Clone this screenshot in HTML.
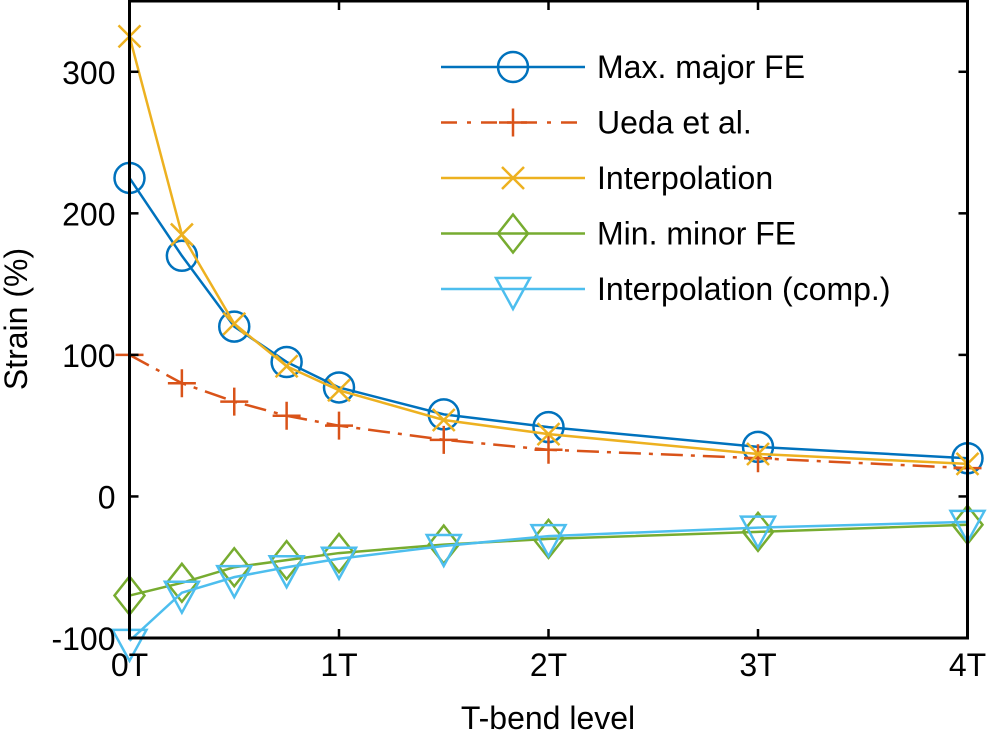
<!DOCTYPE html>
<html><head><meta charset="utf-8"><style>
body{margin:0;background:#fff}
svg{display:block;font-family:"Liberation Sans",sans-serif}
</style></head><body>
<svg id="chart" width="988" height="735" viewBox="0 0 988 735">
<g id="plot"></g>
<g id="axes"></g>
<g id="legend"></g>
</svg>
<script>
const xVals=[0,0.25,0.5,0.75,1,1.5,2,3,4];
const maxMajor=[225,170,120,95,77,58,49,35,27];
const ueda=[100,80,67,57,50,40,33,27,20];
const interp=[325,185,122,92,75,54,44,30,23];
const minMinor=[-70,-61,-50,-45,-40,-34,-30,-25,-20];
const interpComp=[-102,-68,-57,-50,-44,-35,-28,-22,-18];
const xTicks=[0,1,2,3,4];
const xTickLabels=["0T","1T","2T","3T","4T"];
const yTicks=[-100,0,100,200,300];
const yTickLabels=["-100","0","100","200","300"];
const seriesNames=["Max. major FE","Ueda et al.","Interpolation","Min. minor FE","Interpolation (comp.)"];

const L=129.5,R=967.5,T=1,B=638;
const X=v=>L+(v-0)/4*(R-L);
const Y=v=>B-(v+100)/450*(B-T);
const NS="http://www.w3.org/2000/svg";
function mk(tag,attrs,parent){const e=document.createElementNS(NS,tag);for(const k in attrs)e.setAttribute(k,attrs[k]);parent.appendChild(e);return e;}
const plot=document.getElementById('plot'),axes=document.getElementById('axes'),legend=document.getElementById('legend');

function marker(type,x,y,color,parent){
  let e;
  if(type==='o') e=mk('circle',{cx:x,cy:y,r:15,fill:'none',stroke:color,'stroke-width':2.5},parent);
  else if(type==='+') e=mk('path',{d:`M${x-14},${y}H${x+14}M${x},${y-14}V${y+14}`,stroke:color,'stroke-width':2.5,fill:'none'},parent);
  else if(type==='x') e=mk('path',{d:`M${x-11},${y-11}L${x+11},${y+11}M${x-11},${y+11}L${x+11},${y-11}`,stroke:color,'stroke-width':2.5,fill:'none'},parent);
  else if(type==='d') e=mk('path',{d:`M${x},${y-19}L${x+15},${y}L${x},${y+19}L${x-15},${y}Z`,stroke:color,'stroke-width':2.5,fill:'none'},parent);
  else e=mk('path',{d:`M${x-17},${y-11}L${x+17},${y-11}L${x},${y+20}Z`,stroke:color,'stroke-width':2.5,fill:'none'},parent);
  return e;
}
const series=[
 {vals:maxMajor,color:'#0072BD',m:'o',dash:null,name:'max-major-fe'},
 {vals:ueda,color:'#D95319',m:'+',dash:'22,8,4,8',name:'ueda'},
 {vals:interp,color:'#EDB120',m:'x',dash:null,name:'interpolation'},
 {vals:minMinor,color:'#77AC30',m:'d',dash:null,name:'min-minor-fe'},
 {vals:interpComp,color:'#4DBEEE',m:'v',dash:null,name:'interpolation-comp'}
];
series.forEach((s,si)=>{
  const g=mk('g',{},plot);
  
  
  const pts=s.vals.map((v,i)=>X(xVals[i])+','+Y(v)).join(' ');
  const a={points:pts,fill:'none',stroke:s.color,'stroke-width':2.5};
  if(s.dash)a['stroke-dasharray']=s.dash;
  const pl=mk('polyline',a,g);
  
  
  s.vals.forEach((v,i)=>{
    const e=marker(s.m,X(xVals[i]),Y(v),s.color,g);
    
    
  });
  const ly=67+si*55.5;
  const lg=mk('g',{},legend);
  
  
  const la={x1:441,x2:585,y1:ly,y2:ly,stroke:s.color,'stroke-width':2.5};
  if(s.dash)la['stroke-dasharray']='16,10,4,10';
  mk('line',la,lg);
  marker(s.m,513,ly,s.color,lg);
  const t=mk('text',{x:597,y:ly+11,'font-size':32,fill:'#000'},lg);
  t.textContent=seriesNames[si];
});
const box=mk('rect',{x:L,y:T,width:R-L,height:B-T,fill:'none',stroke:'#000','stroke-width':3},axes);


xTicks.forEach((v,i)=>{
  const x=X(v);
  mk('line',{x1:x,x2:x,y1:B,y2:B-9,stroke:'#000','stroke-width':2.5},axes);
  mk('line',{x1:x,x2:x,y1:T,y2:T+9,stroke:'#000','stroke-width':2.5},axes);
  const t=mk('text',{x:x,y:B+38,'font-size':32,'text-anchor':'middle'},axes);
  t.textContent=xTickLabels[i];
  
  
});
yTicks.forEach((v,i)=>{
  const y=Y(v);
  mk('line',{x1:L,x2:L+9,y1:y,y2:y,stroke:'#000','stroke-width':2.5},axes);
  mk('line',{x1:R,x2:R-9,y1:y,y2:y,stroke:'#000','stroke-width':2.5},axes);
  const t=mk('text',{x:L-14,y:y+12,'font-size':32,'text-anchor':'end'},axes);
  t.textContent=yTickLabels[i];
  
  
});
const xt=mk('text',{x:548,y:729,'font-size':32,'text-anchor':'middle'},axes);
xt.textContent='T-bend level';


const yt=mk('text',{x:0,y:0,'font-size':32,'text-anchor':'middle',transform:'translate(27,319) rotate(-90)'},axes);
yt.textContent='Strain (%)';


</script>
</body></html>
